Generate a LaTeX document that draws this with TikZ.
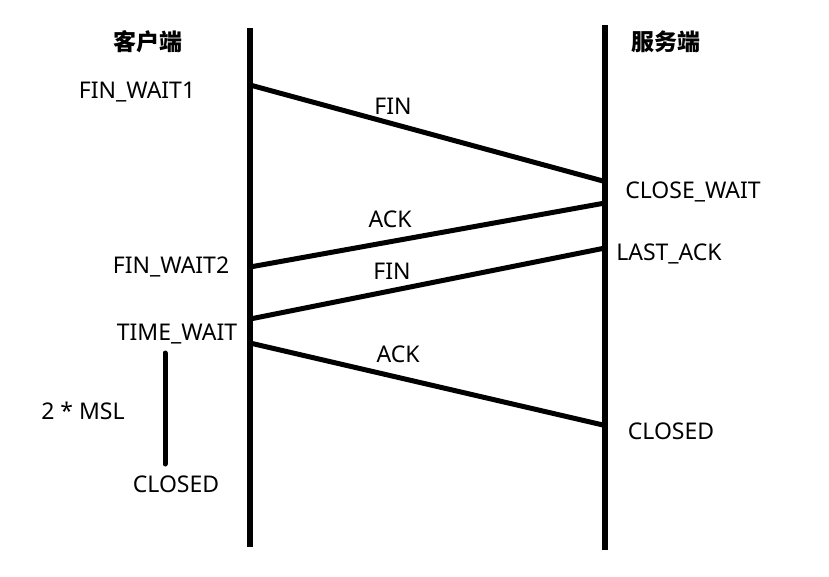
\documentclass[tikz,border=0pt]{standalone}
\usepackage{fontspec}
\setmainfont{Noto Sans}
\newfontfamily\cjk{Noto Sans CJK SC}
\begin{document}
\begin{tikzpicture}[x=1pt,y=-1pt,
  lbl/.style={font=\fontsize{23}{27}\selectfont, inner sep=0pt, anchor=center},
  head/.style={font=\cjk\bfseries\fontsize{23}{27}\selectfont, inner sep=0pt},
  life/.style={line width=5.5pt},
  msg/.style={line width=5pt}]
\useasboundingbox (0,0) rectangle (829,576);
% lifelines
\coordinate (ltop) at (250,28);
\coordinate (lbot) at (250,547);
\coordinate (rtop) at (605,25);
\coordinate (rbot) at (605,550);
\draw[life] (ltop) -- (lbot);
\draw[life] (rtop) -- (rbot);
% message endpoints
\coordinate (a1) at (250,85);
\coordinate (b1) at (603,181);
\coordinate (b2) at (605,203);
\coordinate (a2) at (250,267);
\coordinate (b3) at (605,248);
\coordinate (a3) at (250,319);
\coordinate (a4) at (250,343);
\coordinate (b4) at (603,425);
\draw[msg] (a1) -- (b1);
\draw[msg] (b2) -- (a2);
\draw[msg] (b3) -- (a3);
\draw[msg] (a4) -- (b4);
% 2MSL
\coordinate (m1) at (165,353);
\coordinate (m2) at (165,464);
\draw[msg, line cap=round] (m1) -- (m2);
% texts
\node[head] (hc) at (148,42) {客户端};
\node[head] (hs) at (666,42) {服务端};
\node[lbl] (fw1) at (137,92) {FIN\_WAIT1};
\node[lbl] (fin1) at (393,106) {FIN};
\node[lbl] (cw) at (693,192) {CLOSE\_WAIT};
\node[lbl] (ack1) at (390,219) {ACK};
\node[lbl] (fw2) at (171,267) {FIN\_WAIT2};
\node[lbl] (la) at (669,254) {LAST\_ACK};
\node[lbl] (fin2) at (392,271) {FIN};
\node[lbl] (tw) at (177,334) {TIME\_WAIT};
\node[lbl] (ack2) at (398,354) {ACK};
\node[lbl] (msl) at (83,411) {2 * MSL};
\node[lbl] (cs) at (671,431) {CLOSED};
\node[lbl] (cc) at (176,484) {CLOSED};
\end{tikzpicture}
\end{document}
